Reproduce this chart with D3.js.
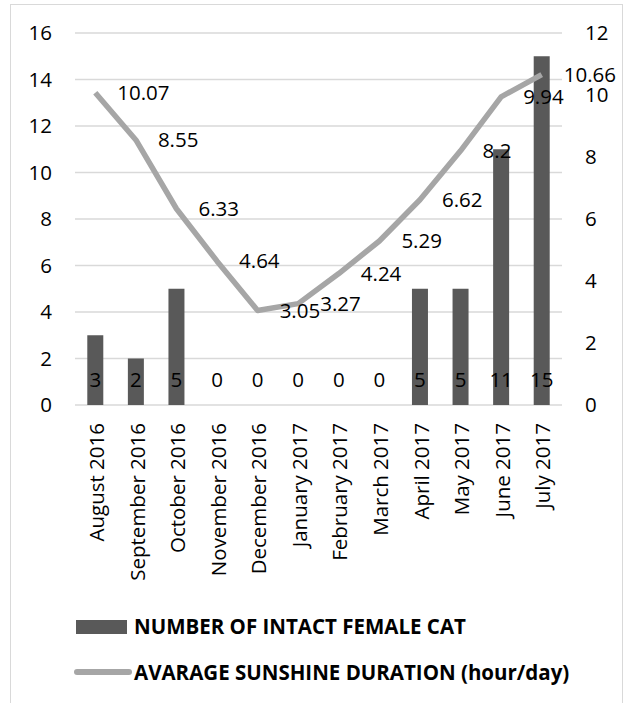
<!DOCTYPE html>
<html>
<head>
<meta charset="utf-8">
<script src="https://cdn.jsdelivr.net/npm/d3@7"></script>
<style>
  html, body { margin: 0; padding: 0; background: #fff; }
  svg { display: block; font-family: "Open Sans", "Noto Sans", sans-serif; }
</style>
</head>
<body>
<svg id="chart" width="631" height="703"></svg>
<script>
// Monthly counts and sunshine hours, Aug 2016 – Jul 2017
const months = ["August 2016", "September 2016", "October 2016", "November 2016",
  "December 2016", "January 2017", "February 2017", "March 2017",
  "April 2017", "May 2017", "June 2017", "July 2017"];
const femaleCats = [3, 2, 5, 0, 0, 0, 0, 0, 5, 5, 11, 15];
const sunshine = [10.07, 8.55, 6.33, 4.64, 3.05, 3.27, 4.24, 5.29, 6.62, 8.2, 9.94, 10.66];
const leftTicks = [0, 2, 4, 6, 8, 10, 12, 14, 16];
const rightTicks = [0, 2, 4, 6, 8, 10, 12];
const seriesNames = ["NUMBER OF INTACT FEMALE CAT", "AVARAGE SUNSHINE DURATION (hour/day)"];

const FONT = "'Open Sans', 'Noto Sans', sans-serif";
const FS = 20.5;
const BAR = "#595959", LINE = "#a6a6a6", GRID = "#d9d9d9";

const svg = d3.select("#chart");
const plot = { left: 75, right: 562, top: 33, bottom: 405 };

// chart frame
svg.append("rect")
  .attr("x", 10.5).attr("y", 4.5).attr("width", 612).attr("height", 720)
  .attr("fill", "#fff").attr("stroke", GRID).attr("stroke-width", 1);

const xc = d3.scalePoint().domain(months).range([plot.left, plot.right]).padding(0.5);
const yL = d3.scaleLinear().domain([0, 16]).range([plot.bottom, plot.top]);
const yR = d3.scaleLinear().domain([0, 12]).range([plot.bottom, plot.top]);

// gridlines
svg.append("g").selectAll("line").data(leftTicks).join("line")
  .attr("x1", plot.left).attr("x2", plot.right)
  .attr("y1", d => yL(d)).attr("y2", d => yL(d))
  .attr("stroke", GRID).attr("stroke-width", 1.5);

function styleText(sel) {
  sel.attr("font-size", FS).attr("fill", "#000").attr("font-family", FONT);
}

// left axis
const axL = svg.append("g").attr("transform", `translate(${plot.left},0)`)
  .call(d3.axisLeft(yL).tickValues(leftTicks).tickSize(0).tickPadding(23));
axL.select(".domain").remove();
axL.selectAll("text").call(styleText);

// right axis
const axR = svg.append("g").attr("transform", `translate(${plot.right},0)`)
  .call(d3.axisRight(yR).tickValues(rightTicks).tickSize(0).tickPadding(23));
axR.select(".domain").remove();
axR.selectAll("text").call(styleText);

// bars
const bw = 16;
svg.append("g").selectAll("rect").data(femaleCats).join("rect")
  .attr("x", (d, i) => xc(months[i]) - bw / 2)
  .attr("width", bw)
  .attr("y", d => yL(d))
  .attr("height", d => yL(0) - yL(d))
  .attr("fill", BAR);

// category axis, labels read bottom-to-top
const axB = svg.append("g").attr("transform", `translate(0,${plot.bottom})`)
  .call(d3.axisBottom(xc).tickSize(0).tickPadding(0));
axB.select(".domain").remove();
axB.selectAll("text").call(styleText)
  .attr("text-anchor", "end")
  .attr("transform", "translate(1,18) rotate(-90)")
  .attr("dy", "0.35em").attr("x", 0).attr("y", 0);

// bar value labels at the base
svg.append("g").selectAll("text").data(femaleCats).join("text")
  .attr("x", (d, i) => xc(months[i]))
  .attr("y", yL(0) - 25)
  .attr("text-anchor", "middle").attr("dy", "0.35em")
  .call(styleText).text(d => d);

// sunshine line
const line = d3.line().x((d, i) => xc(months[i])).y(d => yR(d));
svg.append("path").datum(sunshine)
  .attr("d", line).attr("fill", "none")
  .attr("stroke", LINE).attr("stroke-width", 5.5)
  .attr("stroke-linejoin", "round");

// sunshine value labels, right of each point
svg.append("g").selectAll("text").data(sunshine).join("text")
  .attr("x", (d, i) => xc(months[i]) + 22)
  .attr("y", d => yR(d))
  .attr("dy", "0.35em")
  .call(styleText).text(d => d);

// legend
const lg = svg.append("g").attr("font-weight", "bold").attr("font-size", 20.5).attr("font-family", FONT);
lg.append("rect").attr("x", 76).attr("y", 620).attr("width", 51).attr("height", 14).attr("fill", BAR);
lg.append("text").attr("x", 134).attr("y", 627).attr("dy", "0.35em").text(seriesNames[0]);
lg.append("line").attr("x1", 77).attr("x2", 129).attr("y1", 672).attr("y2", 672)
  .attr("stroke", LINE).attr("stroke-width", 6).attr("stroke-linecap", "round");
lg.append("text").attr("x", 134).attr("y", 673).attr("dy", "0.35em").text(seriesNames[1]);
</script>
</body>
</html>
